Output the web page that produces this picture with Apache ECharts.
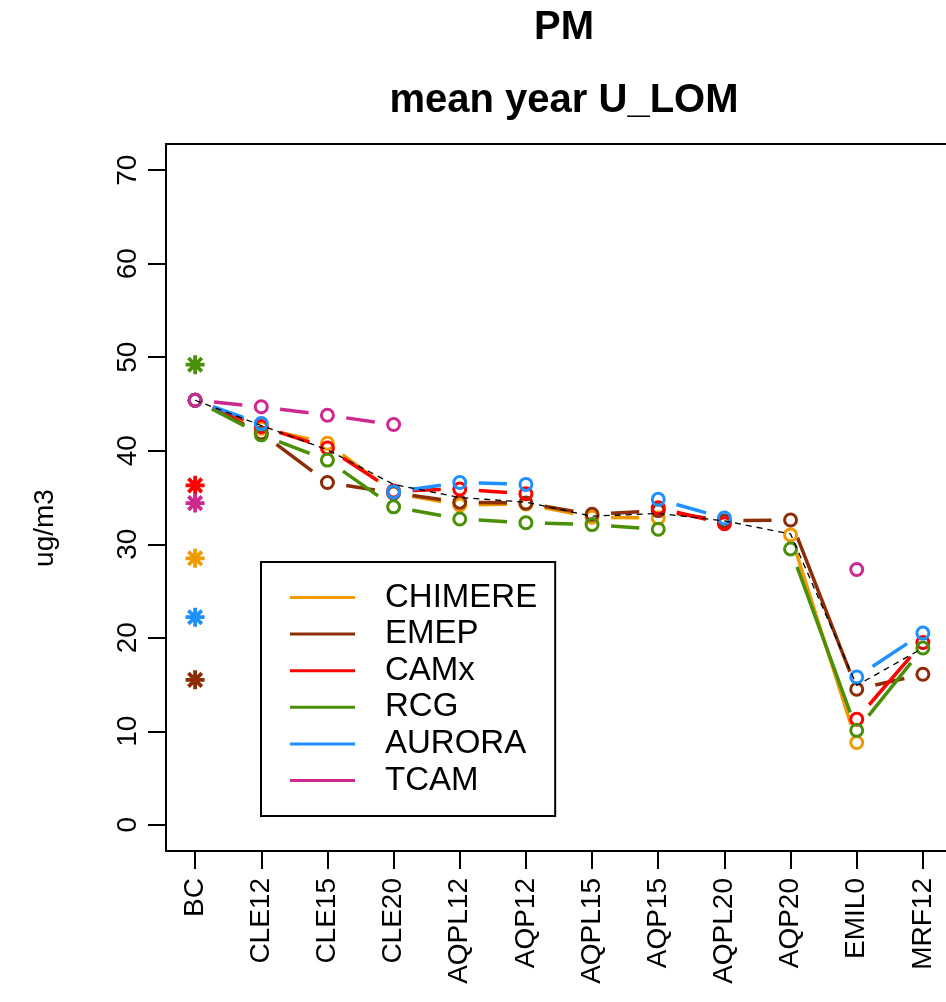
<!DOCTYPE html>
<html>
<head>
<meta charset="utf-8">
<script src="https://cdn.jsdelivr.net/npm/echarts@6/dist/echarts.min.js"></script>
<style>
html,body{margin:0;padding:0;background:#fff;}
#chart{width:946px;height:1002px;}
</style>
</head>
<body>
<div id="chart"></div>
<script>
const categories = ['BC','CLE12','CLE15','CLE20','AQPL12','AQP12','AQPL15','AQP15','AQPL20','AQP20','EMIL0','MRF12'];
const yTicks = [0,10,20,30,40,50,60,70];
const modelNames = ['CHIMERE','EMEP','CAMx','RCG','AURORA','TCAM'];
const chimere = [45.4, 42.4, 40.8, 35.5, 34.2, 34.3, 32.9, 32.8, null, 31.0, 8.8, null];
const emep    = [45.4, 41.9, 36.6, 35.5, 34.5, 34.4, 33.2, 33.6, 32.5, 32.6, 14.5, 16.1];
const camx    = [45.4, 42.6, 40.3, 35.7, 35.9, 35.4, null, 33.9, 32.2, null, 11.3, 19.5];
const rcg     = [45.4, 41.7, 39.0, 34.0, 32.7, 32.3, 32.1, 31.6, null, 29.5, 10.1, 18.9];
const aurora  = [45.4, 42.9, null, 35.6, 36.6, 36.4, null, 34.8, 32.8, null, 15.8, 20.5];
const tcam    = [45.4, 44.7, 43.8, 42.8, null, null, null, null, null, null, 27.3, null];
const ensembleMean = [45.4, 42.7, 40.1, 36.4, 35.0, 34.5, 33.0, 33.3, 32.5, 31.1, 14.9, 18.9];
// starred values at BC, one per model (CHIMERE, EMEP, CAMx, RCG, AURORA, TCAM)
const bcStars = [28.5, 15.5, 36.3, 49.2, 22.2, 34.4];

const modelValues = [chimere, emep, camx, rcg, aurora, tcam];
const modelColors = ['#EE9A00', '#8B2E08', '#FF0000', '#4A8F08', '#1E90FF', '#CD2990'];

const FONT = 'Liberation Sans, Arial, sans-serif';
const GAP = 19;

function segments(vals) {
  const out = [];
  for (let i = 0; i < vals.length - 1; i++) {
    if (vals[i] != null && vals[i + 1] != null) out.push([i, vals[i], i + 1, vals[i + 1]]);
  }
  return out;
}
function points(vals) {
  const out = [];
  vals.forEach((v, i) => { if (v != null) out.push([i, v]); });
  return out;
}

const series = [];
modelNames.forEach((name, k) => {
  const color = modelColors[k];
  series.push({
    name: name,
    type: 'custom',
    data: segments(modelValues[k]),
    encode: { x: [0, 2], y: [1, 3] },
    itemStyle: { color: color },
    silent: true,
    renderItem: function (params, api) {
      const p1 = api.coord([api.value(0), api.value(1)]);
      const p2 = api.coord([api.value(2), api.value(3)]);
      const dx = p2[0] - p1[0], dy = p2[1] - p1[1];
      const len = Math.sqrt(dx * dx + dy * dy);
      if (len <= 2 * GAP) return null;
      const ux = dx / len, uy = dy / len;
      return {
        type: 'line',
        shape: { x1: p1[0] + ux * GAP, y1: p1[1] + uy * GAP, x2: p2[0] - ux * GAP, y2: p2[1] - uy * GAP },
        style: { stroke: color, lineWidth: 3.5, lineCap: 'butt' }
      };
    }
  });
  series.push({
    name: name + ' points',
    type: 'scatter',
    data: points(modelValues[k]),
    symbol: 'circle',
    symbolSize: 12,
    silent: true,
    itemStyle: { color: 'rgba(0,0,0,0)', borderColor: color, borderWidth: 3, opacity: 1 }
  });
});

modelNames.forEach((name, k) => {
  series.push({
    name: name + ' star',
    type: 'scatter',
    data: [[0, bcStars[k]]],
    symbol: 'path://M10 0 L10 20 M0 10 L20 10 M2.93 2.93 L17.07 17.07 M2.93 17.07 L17.07 2.93',
    symbolSize: 19,
    silent: true,
    itemStyle: { color: 'none', borderColor: modelColors[k], borderWidth: 3.8, opacity: 1 }
  });
});

series.push({
  name: 'mean',
  type: 'line',
  data: points(ensembleMean),
  symbol: 'none',
  silent: true,
  lineStyle: { color: '#000', width: 1.3, type: [6, 5] },
  z: 10
});

const frameLine = { show: true, onZero: false, lineStyle: { color: '#000', width: 2 } };

const option = {
  animation: false,
  backgroundColor: '#fff',
  title: [
    { text: 'PM', left: 559, top: 3, textAlign: 'center',
      textStyle: { fontFamily: FONT, fontWeight: 'bold', fontSize: 40, color: '#000' } },
    { text: 'mean year U_LOM', left: 559, top: 76, textAlign: 'center',
      textStyle: { fontFamily: FONT, fontWeight: 'bold', fontSize: 40, color: '#000' } }
  ],
  grid: {
    left: 166, top: 144, width: 786, height: 707,
    containLabel: false,
    outerBoundsMode: 'none',
    show: false
  },
  legend: {
    orient: 'vertical',
    left: 261, top: 562,
    selectedMode: false,
    backgroundColor: '#fff',
    borderColor: '#000', borderWidth: 2,
    padding: [19, 18, 19, 29],
    itemWidth: 65, itemHeight: 3,
    itemGap: 3.6,
    icon: 'rect',
    textStyle: { fontFamily: FONT, fontSize: 33, color: '#000', lineHeight: 33, padding: [0, 0, 0, 25] },
    data: modelNames.map((n, k) => ({ name: n, icon: 'rect', itemStyle: { color: modelColors[k] } }))
  },
  xAxis: [{
    type: 'value',
    position: 'bottom',
    min: -0.44, max: 11.44,
    splitLine: { show: false },
    axisLine: frameLine,
    axisTick: { show: true, length: 18, lineStyle: { color: '#000', width: 2 },
      customValues: categories.map((c, i) => i) },
    axisLabel: {
      customValues: categories.map((c, i) => i),
      formatter: v => categories[Math.round(v)],
      rotate: 90, margin: 27, hideOverlap: false,
      fontFamily: FONT, fontSize: 28, color: '#000'
    }
  }, {
    type: 'value',
    position: 'top',
    min: -0.44, max: 11.44,
    splitLine: { show: false },
    axisLine: frameLine,
    axisTick: { show: false },
    axisLabel: { show: false }
  }],
  yAxis: {
    type: 'value',
    min: -2.8, max: 72.8,
    splitLine: { show: false },
    axisLine: frameLine,
    axisTick: { show: true, length: 18, lineStyle: { color: '#000', width: 2 }, customValues: yTicks },
    axisLabel: {
      customValues: yTicks,
      rotate: 90, margin: 24,
      fontFamily: FONT, fontSize: 28, color: '#000'
    }
  },
  graphic: [
    { type: 'text', x: 45, y: 528, rotation: Math.PI / 2,
      style: { text: 'ug/m3', font: '28px ' + FONT, fill: '#000', textAlign: 'center', textVerticalAlign: 'middle' } }
  ],
  series: series
};

const chart = echarts.init(document.getElementById('chart'), null, { renderer: 'canvas' });
chart.setOption(option);
</script>
</body>
</html>
